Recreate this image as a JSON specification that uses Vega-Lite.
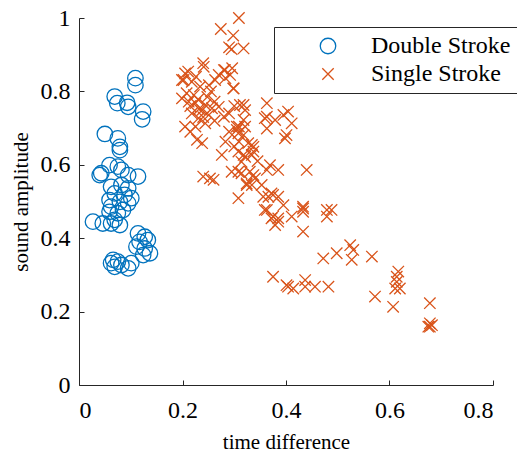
{
  "$schema": "https://vega.github.io/schema/vega-lite/v6.json",
  "width": 414,
  "height": 367,
  "autosize": {"type": "none"},
  "padding": {"left": 79, "top": 18, "right": 24, "bottom": 74},
  "background": "white",
  "config": {
    "view": {"stroke": null},
    "font": "Liberation Serif",
    "axis": {
      "grid": false,
      "domainColor": "#262626",
      "domainWidth": 1,
      "tickColor": "#262626",
      "tickSize": -5,
      "labelFont": "Liberation Serif",
      "labelFontSize": 24,
      "labelColor": "#000000",
      "titleFont": "Liberation Serif",
      "titleFontSize": 21,
      "titleFontWeight": "normal",
      "titleColor": "#000000"
    },
    "legend": {
      "labelFont": "Liberation Serif",
      "labelFontSize": 24,
      "labelColor": "#000000",
      "labelLimit": 400
    }
  },
  "data": {
    "values": [
      {"t": 0.109, "a": 0.836, "type": "Double Stroke"},
      {"t": 0.109, "a": 0.817, "type": "Double Stroke"},
      {"t": 0.069, "a": 0.786, "type": "Double Stroke"},
      {"t": 0.074, "a": 0.768, "type": "Double Stroke"},
      {"t": 0.093, "a": 0.769, "type": "Double Stroke"},
      {"t": 0.095, "a": 0.758, "type": "Double Stroke"},
      {"t": 0.124, "a": 0.745, "type": "Double Stroke"},
      {"t": 0.122, "a": 0.724, "type": "Double Stroke"},
      {"t": 0.050, "a": 0.684, "type": "Double Stroke"},
      {"t": 0.075, "a": 0.672, "type": "Double Stroke"},
      {"t": 0.079, "a": 0.649, "type": "Double Stroke"},
      {"t": 0.079, "a": 0.640, "type": "Double Stroke"},
      {"t": 0.059, "a": 0.599, "type": "Double Stroke"},
      {"t": 0.043, "a": 0.577, "type": "Double Stroke"},
      {"t": 0.040, "a": 0.572, "type": "Double Stroke"},
      {"t": 0.075, "a": 0.595, "type": "Double Stroke"},
      {"t": 0.082, "a": 0.586, "type": "Double Stroke"},
      {"t": 0.114, "a": 0.568, "type": "Double Stroke"},
      {"t": 0.095, "a": 0.572, "type": "Double Stroke"},
      {"t": 0.062, "a": 0.540, "type": "Double Stroke"},
      {"t": 0.082, "a": 0.545, "type": "Double Stroke"},
      {"t": 0.095, "a": 0.536, "type": "Double Stroke"},
      {"t": 0.069, "a": 0.522, "type": "Double Stroke"},
      {"t": 0.088, "a": 0.518, "type": "Double Stroke"},
      {"t": 0.101, "a": 0.509, "type": "Double Stroke"},
      {"t": 0.059, "a": 0.504, "type": "Double Stroke"},
      {"t": 0.079, "a": 0.499, "type": "Double Stroke"},
      {"t": 0.062, "a": 0.486, "type": "Double Stroke"},
      {"t": 0.095, "a": 0.495, "type": "Double Stroke"},
      {"t": 0.085, "a": 0.477, "type": "Double Stroke"},
      {"t": 0.059, "a": 0.472, "type": "Double Stroke"},
      {"t": 0.075, "a": 0.468, "type": "Double Stroke"},
      {"t": 0.027, "a": 0.445, "type": "Double Stroke"},
      {"t": 0.046, "a": 0.440, "type": "Double Stroke"},
      {"t": 0.062, "a": 0.440, "type": "Double Stroke"},
      {"t": 0.079, "a": 0.436, "type": "Double Stroke"},
      {"t": 0.069, "a": 0.450, "type": "Double Stroke"},
      {"t": 0.114, "a": 0.413, "type": "Double Stroke"},
      {"t": 0.127, "a": 0.404, "type": "Double Stroke"},
      {"t": 0.133, "a": 0.395, "type": "Double Stroke"},
      {"t": 0.117, "a": 0.390, "type": "Double Stroke"},
      {"t": 0.111, "a": 0.377, "type": "Double Stroke"},
      {"t": 0.127, "a": 0.372, "type": "Double Stroke"},
      {"t": 0.137, "a": 0.359, "type": "Double Stroke"},
      {"t": 0.124, "a": 0.354, "type": "Double Stroke"},
      {"t": 0.066, "a": 0.341, "type": "Double Stroke"},
      {"t": 0.062, "a": 0.332, "type": "Double Stroke"},
      {"t": 0.069, "a": 0.322, "type": "Double Stroke"},
      {"t": 0.082, "a": 0.327, "type": "Double Stroke"},
      {"t": 0.095, "a": 0.318, "type": "Double Stroke"},
      {"t": 0.075, "a": 0.336, "type": "Double Stroke"},
      {"t": 0.101, "a": 0.332, "type": "Double Stroke"},
      {"t": 0.309, "a": 1.0, "type": "Single Stroke"},
      {"t": 0.274, "a": 0.970, "type": "Single Stroke"},
      {"t": 0.298, "a": 0.952, "type": "Single Stroke"},
      {"t": 0.290, "a": 0.920, "type": "Single Stroke"},
      {"t": 0.295, "a": 0.915, "type": "Single Stroke"},
      {"t": 0.318, "a": 0.917, "type": "Single Stroke"},
      {"t": 0.240, "a": 0.877, "type": "Single Stroke"},
      {"t": 0.211, "a": 0.854, "type": "Single Stroke"},
      {"t": 0.202, "a": 0.831, "type": "Single Stroke"},
      {"t": 0.282, "a": 0.858, "type": "Single Stroke"},
      {"t": 0.292, "a": 0.845, "type": "Single Stroke"},
      {"t": 0.298, "a": 0.808, "type": "Single Stroke"},
      {"t": 0.363, "a": 0.731, "type": "Single Stroke"},
      {"t": 0.305, "a": 0.704, "type": "Single Stroke"},
      {"t": 0.308, "a": 0.686, "type": "Single Stroke"},
      {"t": 0.241, "a": 0.867, "type": "Single Stroke"},
      {"t": 0.205, "a": 0.849, "type": "Single Stroke"},
      {"t": 0.280, "a": 0.858, "type": "Single Stroke"},
      {"t": 0.296, "a": 0.863, "type": "Single Stroke"},
      {"t": 0.199, "a": 0.831, "type": "Single Stroke"},
      {"t": 0.218, "a": 0.826, "type": "Single Stroke"},
      {"t": 0.263, "a": 0.831, "type": "Single Stroke"},
      {"t": 0.283, "a": 0.836, "type": "Single Stroke"},
      {"t": 0.234, "a": 0.813, "type": "Single Stroke"},
      {"t": 0.251, "a": 0.817, "type": "Single Stroke"},
      {"t": 0.299, "a": 0.808, "type": "Single Stroke"},
      {"t": 0.199, "a": 0.781, "type": "Single Stroke"},
      {"t": 0.212, "a": 0.772, "type": "Single Stroke"},
      {"t": 0.225, "a": 0.768, "type": "Single Stroke"},
      {"t": 0.244, "a": 0.763, "type": "Single Stroke"},
      {"t": 0.238, "a": 0.749, "type": "Single Stroke"},
      {"t": 0.257, "a": 0.754, "type": "Single Stroke"},
      {"t": 0.270, "a": 0.758, "type": "Single Stroke"},
      {"t": 0.318, "a": 0.763, "type": "Single Stroke"},
      {"t": 0.218, "a": 0.740, "type": "Single Stroke"},
      {"t": 0.231, "a": 0.727, "type": "Single Stroke"},
      {"t": 0.251, "a": 0.736, "type": "Single Stroke"},
      {"t": 0.280, "a": 0.731, "type": "Single Stroke"},
      {"t": 0.205, "a": 0.704, "type": "Single Stroke"},
      {"t": 0.225, "a": 0.704, "type": "Single Stroke"},
      {"t": 0.244, "a": 0.713, "type": "Single Stroke"},
      {"t": 0.318, "a": 0.722, "type": "Single Stroke"},
      {"t": 0.309, "a": 0.704, "type": "Single Stroke"},
      {"t": 0.228, "a": 0.668, "type": "Single Stroke"},
      {"t": 0.238, "a": 0.659, "type": "Single Stroke"},
      {"t": 0.283, "a": 0.663, "type": "Single Stroke"},
      {"t": 0.318, "a": 0.681, "type": "Single Stroke"},
      {"t": 0.309, "a": 0.663, "type": "Single Stroke"},
      {"t": 0.276, "a": 0.627, "type": "Single Stroke"},
      {"t": 0.334, "a": 0.654, "type": "Single Stroke"},
      {"t": 0.318, "a": 0.627, "type": "Single Stroke"},
      {"t": 0.334, "a": 0.627, "type": "Single Stroke"},
      {"t": 0.363, "a": 0.768, "type": "Single Stroke"},
      {"t": 0.311, "a": 0.763, "type": "Single Stroke"},
      {"t": 0.321, "a": 0.749, "type": "Single Stroke"},
      {"t": 0.404, "a": 0.745, "type": "Single Stroke"},
      {"t": 0.395, "a": 0.736, "type": "Single Stroke"},
      {"t": 0.379, "a": 0.722, "type": "Single Stroke"},
      {"t": 0.359, "a": 0.727, "type": "Single Stroke"},
      {"t": 0.411, "a": 0.713, "type": "Single Stroke"},
      {"t": 0.363, "a": 0.699, "type": "Single Stroke"},
      {"t": 0.321, "a": 0.704, "type": "Single Stroke"},
      {"t": 0.401, "a": 0.681, "type": "Single Stroke"},
      {"t": 0.398, "a": 0.672, "type": "Single Stroke"},
      {"t": 0.305, "a": 0.695, "type": "Single Stroke"},
      {"t": 0.327, "a": 0.659, "type": "Single Stroke"},
      {"t": 0.337, "a": 0.649, "type": "Single Stroke"},
      {"t": 0.308, "a": 0.636, "type": "Single Stroke"},
      {"t": 0.321, "a": 0.622, "type": "Single Stroke"},
      {"t": 0.337, "a": 0.636, "type": "Single Stroke"},
      {"t": 0.440, "a": 0.586, "type": "Single Stroke"},
      {"t": 0.369, "a": 0.599, "type": "Single Stroke"},
      {"t": 0.385, "a": 0.586, "type": "Single Stroke"},
      {"t": 0.363, "a": 0.586, "type": "Single Stroke"},
      {"t": 0.314, "a": 0.608, "type": "Single Stroke"},
      {"t": 0.330, "a": 0.581, "type": "Single Stroke"},
      {"t": 0.308, "a": 0.581, "type": "Single Stroke"},
      {"t": 0.340, "a": 0.563, "type": "Single Stroke"},
      {"t": 0.334, "a": 0.545, "type": "Single Stroke"},
      {"t": 0.353, "a": 0.545, "type": "Single Stroke"},
      {"t": 0.324, "a": 0.545, "type": "Single Stroke"},
      {"t": 0.372, "a": 0.522, "type": "Single Stroke"},
      {"t": 0.366, "a": 0.513, "type": "Single Stroke"},
      {"t": 0.385, "a": 0.513, "type": "Single Stroke"},
      {"t": 0.308, "a": 0.509, "type": "Single Stroke"},
      {"t": 0.395, "a": 0.490, "type": "Single Stroke"},
      {"t": 0.359, "a": 0.477, "type": "Single Stroke"},
      {"t": 0.433, "a": 0.481, "type": "Single Stroke"},
      {"t": 0.479, "a": 0.477, "type": "Single Stroke"},
      {"t": 0.253, "a": 0.563, "type": "Single Stroke"},
      {"t": 0.240, "a": 0.568, "type": "Single Stroke"},
      {"t": 0.260, "a": 0.559, "type": "Single Stroke"},
      {"t": 0.295, "a": 0.581, "type": "Single Stroke"},
      {"t": 0.324, "a": 0.549, "type": "Single Stroke"},
      {"t": 0.314, "a": 0.577, "type": "Single Stroke"},
      {"t": 0.337, "a": 0.572, "type": "Single Stroke"},
      {"t": 0.375, "a": 0.518, "type": "Single Stroke"},
      {"t": 0.356, "a": 0.513, "type": "Single Stroke"},
      {"t": 0.363, "a": 0.477, "type": "Single Stroke"},
      {"t": 0.375, "a": 0.459, "type": "Single Stroke"},
      {"t": 0.385, "a": 0.454, "type": "Single Stroke"},
      {"t": 0.372, "a": 0.454, "type": "Single Stroke"},
      {"t": 0.379, "a": 0.436, "type": "Single Stroke"},
      {"t": 0.411, "a": 0.459, "type": "Single Stroke"},
      {"t": 0.385, "a": 0.445, "type": "Single Stroke"},
      {"t": 0.433, "a": 0.486, "type": "Single Stroke"},
      {"t": 0.433, "a": 0.472, "type": "Single Stroke"},
      {"t": 0.479, "a": 0.459, "type": "Single Stroke"},
      {"t": 0.488, "a": 0.477, "type": "Single Stroke"},
      {"t": 0.433, "a": 0.418, "type": "Single Stroke"},
      {"t": 0.524, "a": 0.381, "type": "Single Stroke"},
      {"t": 0.530, "a": 0.368, "type": "Single Stroke"},
      {"t": 0.527, "a": 0.341, "type": "Single Stroke"},
      {"t": 0.498, "a": 0.359, "type": "Single Stroke"},
      {"t": 0.472, "a": 0.345, "type": "Single Stroke"},
      {"t": 0.566, "a": 0.350, "type": "Single Stroke"},
      {"t": 0.617, "a": 0.309, "type": "Single Stroke"},
      {"t": 0.614, "a": 0.295, "type": "Single Stroke"},
      {"t": 0.614, "a": 0.281, "type": "Single Stroke"},
      {"t": 0.611, "a": 0.263, "type": "Single Stroke"},
      {"t": 0.620, "a": 0.263, "type": "Single Stroke"},
      {"t": 0.375, "a": 0.295, "type": "Single Stroke"},
      {"t": 0.401, "a": 0.272, "type": "Single Stroke"},
      {"t": 0.404, "a": 0.268, "type": "Single Stroke"},
      {"t": 0.414, "a": 0.263, "type": "Single Stroke"},
      {"t": 0.437, "a": 0.286, "type": "Single Stroke"},
      {"t": 0.437, "a": 0.268, "type": "Single Stroke"},
      {"t": 0.456, "a": 0.268, "type": "Single Stroke"},
      {"t": 0.482, "a": 0.268, "type": "Single Stroke"},
      {"t": 0.572, "a": 0.241, "type": "Single Stroke"},
      {"t": 0.607, "a": 0.213, "type": "Single Stroke"},
      {"t": 0.678, "a": 0.223, "type": "Single Stroke"},
      {"t": 0.678, "a": 0.168, "type": "Single Stroke"},
      {"t": 0.675, "a": 0.159, "type": "Single Stroke"},
      {"t": 0.682, "a": 0.163, "type": "Single Stroke"},
      {"t": 0.678, "a": 0.159, "type": "Single Stroke"},
      {"t": 0.208, "a": 0.795, "type": "Single Stroke"},
      {"t": 0.222, "a": 0.790, "type": "Single Stroke"},
      {"t": 0.230, "a": 0.778, "type": "Single Stroke"},
      {"t": 0.215, "a": 0.760, "type": "Single Stroke"},
      {"t": 0.232, "a": 0.752, "type": "Single Stroke"},
      {"t": 0.248, "a": 0.785, "type": "Single Stroke"},
      {"t": 0.262, "a": 0.772, "type": "Single Stroke"},
      {"t": 0.226, "a": 0.840, "type": "Single Stroke"},
      {"t": 0.270, "a": 0.845, "type": "Single Stroke"},
      {"t": 0.255, "a": 0.800, "type": "Single Stroke"},
      {"t": 0.240, "a": 0.730, "type": "Single Stroke"},
      {"t": 0.262, "a": 0.720, "type": "Single Stroke"},
      {"t": 0.290, "a": 0.740, "type": "Single Stroke"},
      {"t": 0.300, "a": 0.760, "type": "Single Stroke"},
      {"t": 0.215, "a": 0.690, "type": "Single Stroke"},
      {"t": 0.290, "a": 0.690, "type": "Single Stroke"},
      {"t": 0.345, "a": 0.610, "type": "Single Stroke"},
      {"t": 0.300, "a": 0.650, "type": "Single Stroke"}
    ]
  },
  "mark": {"type": "point", "filled": false, "strokeWidth": 1.3, "opacity": 1},
  "encoding": {
    "x": {
      "field": "t", "type": "quantitative",
      "scale": {"domain": [0, 0.8], "nice": false},
      "axis": {"title": "time difference", "values": [0, 0.2, 0.4, 0.6, 0.8], "labelExpr": "datum.value + ''", "labelPadding": 18, "titlePadding": 9}
    },
    "y": {
      "field": "a", "type": "quantitative",
      "scale": {"domain": [0, 1], "nice": false},
      "axis": {"title": "sound amplitude", "values": [0, 0.2, 0.4, 0.6, 0.8, 1], "labelExpr": "datum.value + ''", "labelPadding": 14, "titlePadding": 9}
    },
    "color": {
      "field": "type", "type": "nominal",
      "scale": {"domain": ["Double Stroke", "Single Stroke"], "range": ["#0072BD", "#D95319"]},
      "legend": {
        "title": null,
        "orient": "none",
        "legendX": 195,
        "legendY": 9,
        "strokeColor": "#262626",
        "fillColor": "white",
        "padding": 7,
        "symbolOffset": 35,
        "labelOffset": 31,
        "rowPadding": 4,
        "symbolSize": 200,
        "symbolStrokeWidth": 1.3
      }
    },
    "shape": {
      "field": "type", "type": "nominal",
      "scale": {"domain": ["Double Stroke", "Single Stroke"], "range": ["circle", "M-1,-1L1,1M1,-1L-1,1"]}
    },
    "size": {
      "field": "type", "type": "nominal",
      "scale": {"domain": ["Double Stroke", "Single Stroke"], "range": [240, 130]},
      "legend": null
    }
  }
}
